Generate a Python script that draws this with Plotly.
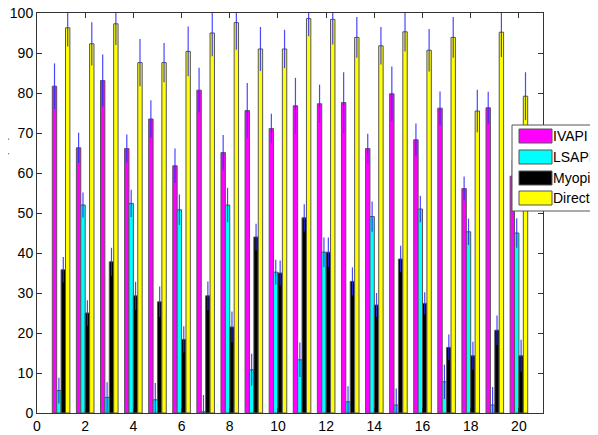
import plotly.graph_objects as go

groups = list(range(1, 21))
series_names = ["IVAPI", "LSAPI", "Myopic", "Direct"]
series_colors = ["#ff00ff", "#00ffff", "#000000", "#ffff00"]

ivapi = [81.7, 66.3, 83.1, 66.1, 73.5, 61.8, 80.7, 65.1, 75.6, 71.1,
         76.8, 77.3, 77.6, 66.1, 79.8, 68.3, 76.2, 56.1, 76.3, 59.2]
lsapi = [5.6, 52.0, 3.9, 52.4, 3.3, 50.8, 0.3, 52.0, 10.8, 35.2,
         13.3, 40.2, 2.8, 49.1, 2.0, 51.0, 7.8, 45.3, 2.0, 45.0]
myopic = [35.8, 25.0, 37.8, 29.3, 27.8, 18.4, 29.3, 21.5, 44.0, 35.0,
          48.8, 40.2, 32.9, 27.0, 38.5, 27.4, 16.4, 14.3, 20.7, 14.3]
direct = [96.3, 92.3, 97.3, 87.6, 87.6, 90.4, 95.0, 97.6, 91.0, 91.0,
          98.6, 98.4, 93.9, 91.8, 95.3, 90.7, 93.9, 75.5, 95.2, 79.2]

ivapi_err = [5.7, 3.8, 6.5, 3.5, 4.7, 4.3, 5.6, 4.4, 6.9, 3.7,
             7.0, 4.8, 7.6, 3.7, 6.8, 4.1, 4.2, 3.0, 4.0, 4.2]
lsapi_err = [3.2, 3.1, 3.8, 3.4, 4.2, 3.8, 4.2, 4.3, 4.0, 3.1,
             4.3, 3.7, 3.9, 3.8, 4.1, 3.3, 4.3, 3.3, 4.5, 3.7]
myopic_err = [3.2, 3.2, 3.5, 3.5, 3.8, 3.3, 3.6, 3.9, 3.3, 3.1,
              3.4, 3.7, 3.5, 3.0, 3.3, 2.8, 3.2, 3.5, 3.7, 4.0]
direct_err = [4.7, 5.4, 5.3, 5.9, 4.9, 6.2, 5.8, 6.8, 5.5, 4.8,
              4.4, 6.3, 5.1, 4.7, 4.9, 5.3, 5.1, 5.3, 6.2, 6.0]

x_ticks = [0, 2, 4, 6, 8, 10, 12, 14, 16, 18, 20]
y_ticks = [0, 10, 20, 30, 40, 50, 60, 70, 80, 90, 100]

values = [ivapi, lsapi, myopic, direct]
errors = [ivapi_err, lsapi_err, myopic_err, direct_err]

fig = go.Figure()
for name, color, vals, errs in zip(series_names, series_colors, values, errors):
    fig.add_trace(go.Bar(
        x=groups, y=vals, name=name,
        marker=dict(color=color, line=dict(color="#555555", width=1)),
        error_y=dict(type="data", array=errs, visible=True,
                     color="rgba(40,40,255,0.85)", thickness=1.2, width=0),
        showlegend=False,
    ))

font = dict(family="Liberation Sans, Arial, sans-serif", size=14, color="#000000")

# the page body adds an 8 px offset; the figure is sized to fill the rest of the window
fig.update_layout(
    width=590, height=427,
    margin=dict(l=29, r=55, t=5, b=22, autoexpand=False),
    paper_bgcolor="white", plot_bgcolor="white",
    barmode="group", bargap=0.27, bargroupgap=0,
    font=font,
    showlegend=False,
)
fig.update_xaxes(range=[0, 21], tickvals=x_ticks, ticks="inside", ticklen=5,
                 tickcolor="#333333", showline=True, linecolor="#333333",
                 linewidth=1, mirror="ticks", showgrid=False, zeroline=False,
                 tickfont=font, automargin=False, ticklabeloverflow="allow")
fig.update_yaxes(range=[0, 100], tickvals=y_ticks, ticks="inside", ticklen=5,
                 tickcolor="#333333", showline=True, linecolor="#333333",
                 linewidth=1, mirror="ticks", showgrid=False, zeroline=False,
                 tickfont=font, automargin=False, ticklabeloverflow="allow")

# Y-axis label (mostly outside the page, as in the reference)
fig.add_annotation(text="Success rate (%)", xref="paper", yref="paper",
                   x=-0.071, y=0.56, xanchor="center", yanchor="middle",
                   textangle=-90, showarrow=False,
                   font=dict(family="Liberation Sans, Arial, sans-serif", size=14, color="#666666"))

# Manual legend (box, swatches, labels); positions in window pixels
pw = 506.0
ph = 400.0
def px(xp):
    return (xp - 37) / pw
def py(yp):
    return (413 - yp) / ph

fig.add_shape(type="rect", xref="paper", yref="paper",
              x0=px(512), x1=px(640), y0=py(211), y1=py(125),
              line=dict(color="#555555", width=1), fillcolor="white", layer="above")
entry_y = [136, 157, 178, 198]
for name, color, yc in zip(series_names, series_colors, entry_y):
    fig.add_shape(type="rect", xref="paper", yref="paper",
                  x0=px(519), x1=px(552), y0=py(yc + 7), y1=py(yc - 7),
                  line=dict(color="#555555", width=1), fillcolor=color, layer="above")
    fig.add_annotation(text=name, xref="paper", yref="paper",
                       x=px(550.5), y=py(yc), xanchor="left", yanchor="middle",
                       showarrow=False, font=font)

fig.write_html("out.html")
